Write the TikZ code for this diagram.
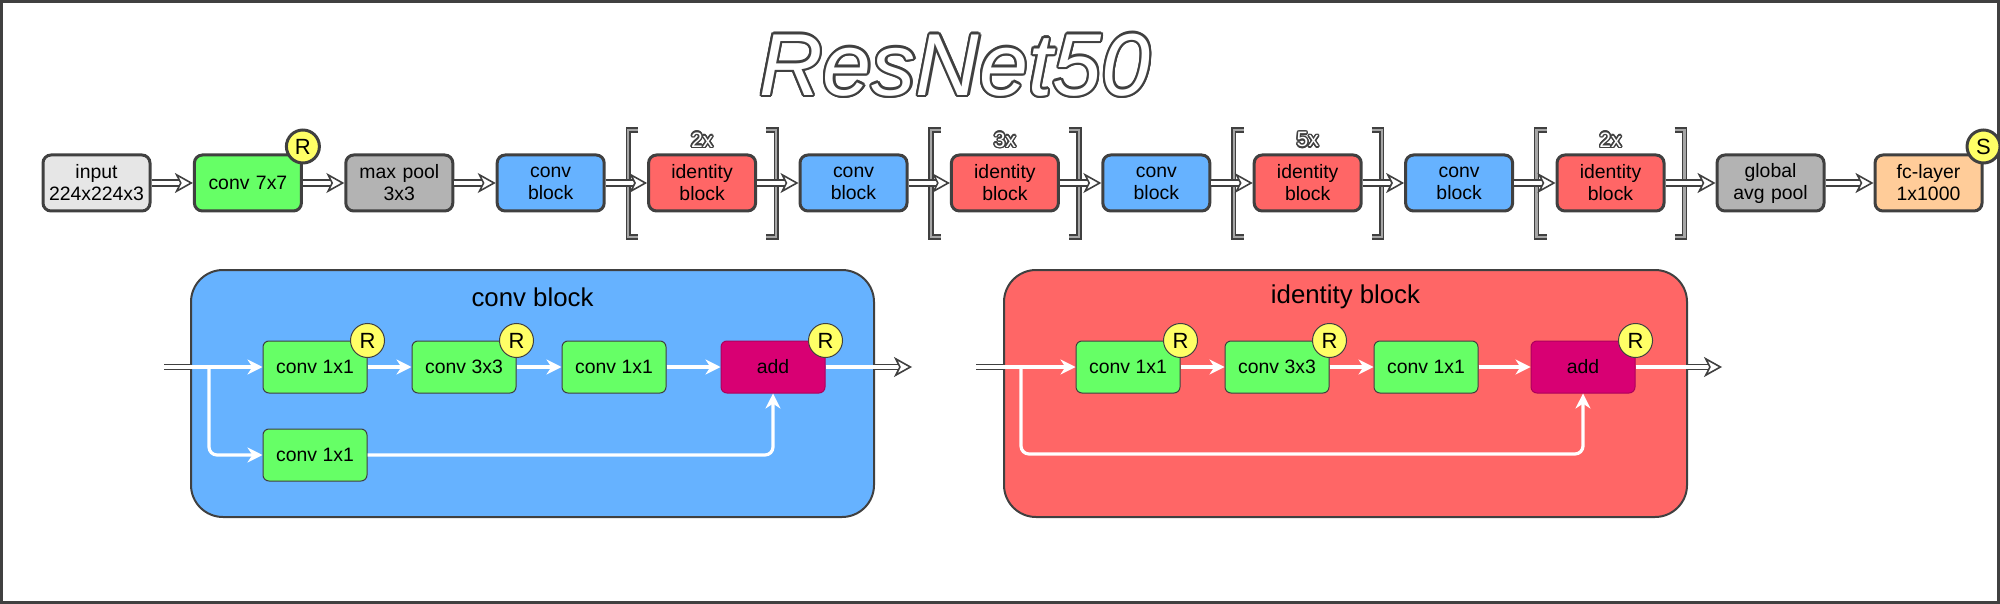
\documentclass[tikz,border=0pt]{standalone}
\usepackage{fontspec}
\setmainfont{Liberation Sans}
\usepackage{tikz}
\usetikzlibrary{arrows.meta,positioning,calc}
\usepackage{contour}
\usepackage{xcolor}

\definecolor{edgegray}{HTML}{404040}
\definecolor{inputgray}{HTML}{E6E6E6}
\definecolor{poolgray}{HTML}{B3B3B3}
\definecolor{convgreen}{HTML}{66FF66}
\definecolor{convblue}{HTML}{66B2FF}
\definecolor{idred}{HTML}{FF6666}
\definecolor{fcorange}{HTML}{FFCC99}
\definecolor{reluyellow}{HTML}{FFFF66}
\definecolor{addmagenta}{HTML}{D80073}

\begin{document}
\begin{tikzpicture}[x=0.5pt, y=-0.5pt, node distance=20.7pt, font=\fontsize{9.7}{11}\selectfont]
  \tikzstyle{block} = [rectangle, draw=edgegray, line width=1.5pt, rounded corners=4pt, minimum width=53.5pt, minimum height=28pt, text width=51pt, align=center, inner sep=1pt]
  \tikzstyle{layer} = [rectangle, draw=edgegray, line width=0.5pt, rounded corners=3pt, minimum width=52pt, minimum height=26pt, inner sep=1pt]
  \tikzstyle{panel} = [rectangle, draw=edgegray, line width=1pt, rounded corners=16pt, minimum width=341.5pt, minimum height=123.5pt]
  \tikzstyle{badge} = [circle, draw=edgegray, line width=1.5pt, fill=reluyellow, minimum size=16.5pt, inner sep=0pt, font=\fontsize{11}{12}\selectfont]
  \tikzstyle{minibadge} = [circle, draw=edgegray, line width=0.5pt, fill=reluyellow, minimum size=17pt, inner sep=0pt, font=\fontsize{11}{12}\selectfont]
  \tikzstyle{hollow} = [draw=edgegray, line width=0.9pt, double=white, double distance=2.4pt, -{Stealth[length=9pt, width=10pt, inset=2.5pt, fill=white, line width=0.8pt]}]
  \tikzstyle{stub} = [draw=edgegray, line width=0.8pt, double=white, double distance=1.8pt]
  \tikzstyle{flow} = [draw=white, line width=1.6pt, rounded corners=4pt, -{Stealth[length=7.5pt, width=7.5pt]}]
  \tikzstyle{bracket} = [draw=edgegray, line width=0.7pt, double=gray!70, double distance=1.2pt]
  \tikzstyle{repeat} = [text=white, font=\fontsize{10.5}{11}\selectfont, inner sep=0pt]

  \useasboundingbox (0,0) rectangle (2000,604);
  \draw[edgegray, line width=1.5pt] (1.5,1.5) rectangle (1998.5,602.5);

  \node[text=white, font=\fontsize{44}{50}\selectfont\itshape] (title) at (955,66) {\contourlength{1.1pt}\contour{edgegray}{ResNet50}};

  \node[block, fill=inputgray] (input) at (96.5,183) {input\\224x224x3};
  \node[block, fill=convgreen, right=of input] (conv1) {conv 7x7};
  \node[block, fill=poolgray, right=of conv1] (maxpool) {max pool\\3x3};
  \node[block, fill=convblue, right=of maxpool] (cb2) {conv\\block};
  \node[block, fill=idred, right=of cb2] (ib2) {identity\\block};
  \node[block, fill=convblue, right=of ib2] (cb3) {conv\\block};
  \node[block, fill=idred, right=of cb3] (ib3) {identity\\block};
  \node[block, fill=convblue, right=of ib3] (cb4) {conv\\block};
  \node[block, fill=idred, right=of cb4] (ib4) {identity\\block};
  \node[block, fill=convblue, right=of ib4] (cb5) {conv\\block};
  \node[block, fill=idred, right=of cb5] (ib5) {identity\\block};
  \node[block, fill=poolgray, right=25pt of ib5] (avgpool) {global\\avg pool};
  \node[block, fill=fcorange, right=24pt of avgpool] (fc) {fc-layer\\1x1000};

  \foreach \blk/\rep in {ib2/2x, ib3/3x, ib4/5x, ib5/2x} {
    \draw[bracket] ([shift={(-32pt,26.5pt)}]\blk.center) -- ++(-5pt,0) -- ++(0,-53.5pt) -- ++(5pt,0);
    \draw[bracket] ([shift={(32pt,26.5pt)}]\blk.center) -- ++(5pt,0) -- ++(0,-53.5pt) -- ++(-5pt,0);
    \node[repeat] (\blk-rep) at ([yshift=6.5pt]\blk.north) {\contourlength{0.7pt}\contour{edgegray}{\rep}};
  }

  \foreach \a/\b in {input/conv1, conv1/maxpool, maxpool/cb2, cb2/ib2, ib2/cb3, cb3/ib3, ib3/cb4, cb4/ib4, ib4/cb5, cb5/ib5, ib5/avgpool, avgpool/fc}
    \draw[hollow] (\a) -- (\b);

  \node[badge] (relu1) at ([yshift=3.5pt]conv1.north east) {R};
  \node[badge] (softmax) at ([yshift=3.5pt]fc.north east) {S};

  \node[panel, fill=convblue] (convpanel) at (532.5,393.5) {};
  \node[font=\fontsize{12.9}{15}\selectfont] (convtitle) at ([yshift=-14pt]convpanel.north) {conv block};
  \node[layer, fill=convgreen] (cbc1) at (315,367) {conv 1x1};
  \node[layer, fill=convgreen, right=22pt of cbc1] (cbc2) {conv 3x3};
  \node[layer, fill=convgreen, right=22.5pt of cbc2] (cbc3) {conv 1x1};
  \node[layer, fill=addmagenta, draw=addmagenta!80!black, right=27pt of cbc3] (cbadd) {add};
  \node[layer, fill=convgreen, below=17.5pt of cbc1] (cbshort) {conv 1x1};

  \coordinate (cbedge) at (convpanel.west |- cbc1);
  \coordinate[left=13pt of cbedge] (cbin);
  \coordinate[right=9.5pt of cbedge] (cbsplit);
  \coordinate (cbexit) at (convpanel.east |- cbadd);
  \coordinate[right=18.5pt of cbexit] (cbout);

  \draw[stub] (cbin) -- (cbedge);
  \draw[flow] (cbedge) -- (cbc1);
  \draw[flow] (cbsplit) |- (cbshort);
  \draw[flow] (cbc1) -- (cbc2);
  \draw[flow] (cbc2) -- (cbc3);
  \draw[flow] (cbc3) -- (cbadd);
  \draw[flow] (cbshort) -| (cbadd);
  \draw[draw=white, line width=1.6pt] (cbadd) -- (cbexit);
  \draw[stub, -{Stealth[length=9pt, width=10pt, inset=2.5pt, fill=white, line width=0.8pt]}] (cbexit) -- (cbout);

  \node[minibadge] (cbr1) at (cbc1.north east) {R};
  \node[minibadge] (cbr2) at (cbc2.north east) {R};
  \node[minibadge] (cbr3) at (cbadd.north east) {R};

  \node[panel, fill=idred] (idpanel) at (1345.5,393.5) {};
  \node[font=\fontsize{12.9}{15}\selectfont] (idtitle) at ([yshift=-14pt]idpanel.north) {identity block};
  \node[layer, fill=convgreen] (ibc1) at (1128,367) {conv 1x1};
  \node[layer, fill=convgreen, right=22pt of ibc1] (ibc2) {conv 3x3};
  \node[layer, fill=convgreen, right=22pt of ibc2] (ibc3) {conv 1x1};
  \node[layer, fill=addmagenta, draw=addmagenta!80!black, right=26pt of ibc3] (ibadd) {add};

  \coordinate (ibedge) at (idpanel.west |- ibc1);
  \coordinate[left=13.5pt of ibedge] (ibin);
  \coordinate[right=9pt of ibedge] (ibsplit);
  \coordinate (ibexit) at (idpanel.east |- ibadd);
  \coordinate[right=17pt of ibexit] (ibout);

  \draw[stub] (ibin) -- (ibedge);
  \draw[flow] (ibedge) -- (ibc1);
  \draw[flow] (ibc1) -- (ibc2);
  \draw[flow] (ibc2) -- (ibc3);
  \draw[flow] (ibc3) -- (ibadd);
  \draw[flow] (ibsplit) |- ([yshift=-43.5pt]ibadd.center) -- (ibadd);
  \draw[draw=white, line width=1.6pt] (ibadd) -- (ibexit);
  \draw[stub, -{Stealth[length=9pt, width=10pt, inset=2.5pt, fill=white, line width=0.8pt]}] (ibexit) -- (ibout);

  \node[minibadge] (ibr1) at (ibc1.north east) {R};
  \node[minibadge] (ibr2) at (ibc2.north east) {R};
  \node[minibadge] (ibr3) at (ibadd.north east) {R};

\end{tikzpicture}
\end{document}
